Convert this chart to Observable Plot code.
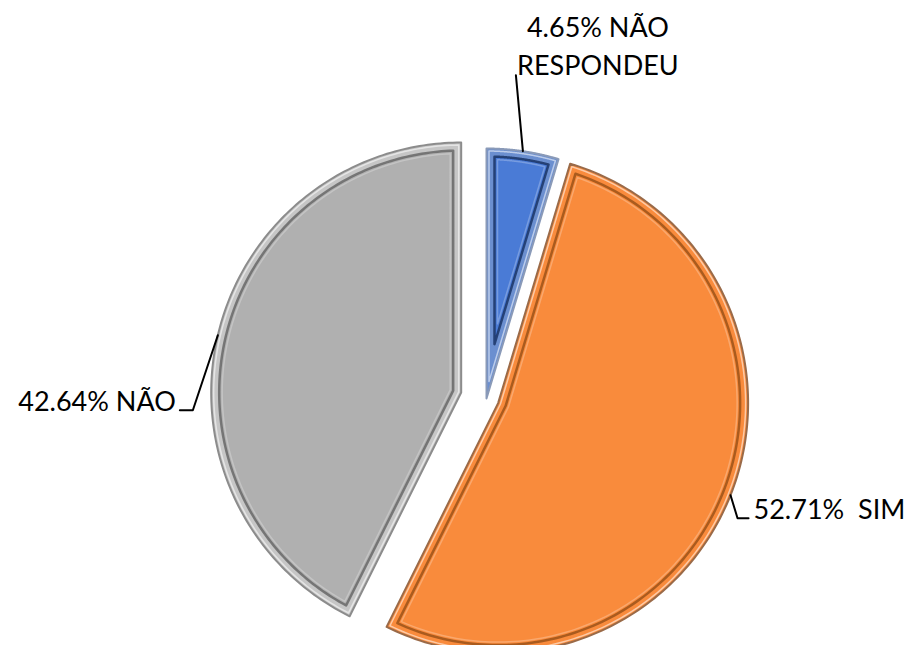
<!DOCTYPE html>
<html><head><meta charset="utf-8">
<script src="https://cdn.jsdelivr.net/npm/d3@7"></script>
<script src="https://cdn.jsdelivr.net/npm/@observablehq/plot@0.6"></script>
<style>body{margin:0;background:#fff} #chart svg{display:block}</style>
</head><body><div id="chart"></div>
<script>
// ---- data ----
const categories = ["NÃO RESPONDEU", "SIM", "NÃO"];
const values = [4.65, 52.71, 42.64];
const labelTexts = ["4.65% NÃO\nRESPONDEU", "52.71%  SIM", "42.64% NÃO"];

// ---- styles ----
const fillColors = ["#4a7bd6", "#f98b3c", "#b0b0b0"];
const rimColors = ["#6b8fd0", "#f98b3c", "#c6c6c6"];
const lineColors = ["#1b3566", "#9c5219", "#686868"];
const edgeColors = ["#8a9ab8", "#9a6a48", "#8c8c8c"];

// ---- layout (pixels) ----
const W = 918, H = 645;
const centerPx = [486, 398];
const radiusPx = 250;
const explode = [0, 0.05, 0.104]; // fraction of radius
const leaderPx = [[[-7, -76]], [[7, 23], [11, 0]], [[-25, 75], [-13, 0]]];
const textOffsetPx = [[82, 0], [5, 1], [-4, 1]];
const textAnchors = ["middle", "start", "end"];

const k = 1 / radiusPx;
const xDomain = [-centerPx[0] * k, (W - centerPx[0]) * k];
const yDomain = [-(H - centerPx[1]) * k, centerPx[1] * k];

const arcs = d3.pie().sort(null).value(d => d)(values);

function sector(cx, cy, a0, a1, r, d) {
  const R = r - d;
  const half = (a1 - a0) / 2, mid = (a0 + a1) / 2;
  const tip = d === 0 ? 0 : d / Math.sin(half);
  const da = d === 0 ? 0 : Math.asin(d / R);
  const pts = [[cx + tip * Math.sin(mid), cy + tip * Math.cos(mid)]];
  const n = 160;
  for (let i = 0; i <= n; i++) {
    const a = a0 + da + (a1 - a0 - 2 * da) * i / n;
    pts.push([cx + R * Math.sin(a), cy + R * Math.cos(a)]);
  }
  return pts;
}

const marks = [];
const leaders = [];
const labels = [];
arcs.forEach((arc, i) => {
  const mid = (arc.startAngle + arc.endAngle) / 2;
  const cx = explode[i] * Math.sin(mid), cy = explode[i] * Math.cos(mid);
  const a0 = arc.startAngle, a1 = arc.endAngle;
  const P = () => ({x: p => p[0], y: p => p[1], curve: "linear-closed"});
  marks.push(Plot.line(sector(cx, cy, a0, a1, 1, 0), {...P(), fill: rimColors[i], stroke: edgeColors[i], strokeWidth: 2}));
  marks.push(Plot.line(sector(cx, cy, a0, a1, 1, 2.5 * k), {...P(), fill: "none", stroke: "#ffffff", strokeOpacity: 0.55, strokeWidth: 1.5}));
  marks.push(Plot.line(sector(cx, cy, a0, a1, 1, 8 * k), {...P(), fill: fillColors[i], stroke: lineColors[i], strokeWidth: 2.5, strokeOpacity: 0.85}));
  marks.push(Plot.line(sector(cx, cy, a0, a1, 1, 11 * k), {...P(), fill: "none", stroke: "#ffffff", strokeOpacity: 0.25, strokeWidth: 1.5}));
  // leader
  let p = [cx + Math.sin(mid), cy + Math.cos(mid)];
  const path = [{x: p[0], y: p[1], s: categories[i]}];
  leaderPx[i].forEach(([dx, dy]) => {
    p = [p[0] + dx * k, p[1] - dy * k];
    path.push({x: p[0], y: p[1], s: categories[i]});
  });
  leaders.push(...path);
  labels.push({x: p[0] + textOffsetPx[i][0] * k, y: p[1] - textOffsetPx[i][1] * k, text: labelTexts[i], anchor: textAnchors[i]});
});

const textFont = "Lato, 'Open Sans', sans-serif";
marks.push(Plot.line(leaders, {x: "x", y: "y", z: "s", stroke: "#000", strokeWidth: 2}));
["middle", "start", "end"].forEach(anchor => {
  marks.push(Plot.text(labels.filter(d => d.anchor === anchor), {
    x: "x", y: "y", text: "text", textAnchor: anchor, lineAnchor: "bottom",
    lineHeight: 1.41, fontSize: 27, fill: "#000", fontFamily: textFont
  }));
});

const chart = Plot.plot({
  width: W, height: H, margin: 0,
  x: {domain: xDomain, axis: null},
  y: {domain: yDomain, axis: null},
  style: {background: "#fff", fontFamily: textFont},
  marks
});
chart.querySelectorAll("text").forEach(t => t.style.whiteSpace = "pre");
document.getElementById("chart").append(chart);
</script>
</body></html>
